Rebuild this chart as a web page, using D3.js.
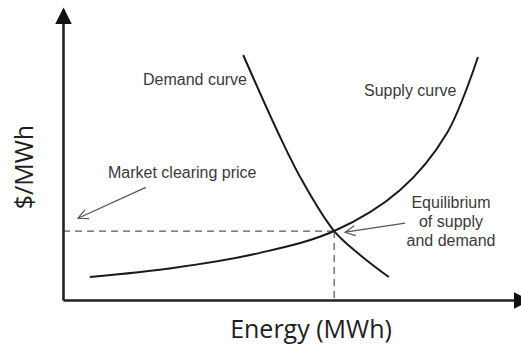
<!DOCTYPE html>
<html>
<head>
<meta charset="utf-8">
<script src="https://cdn.jsdelivr.net/npm/d3@7/dist/d3.min.js"></script>
<style>
  html, body { margin: 0; padding: 0; background: #fff; }
  svg { display: block; }
  .note { font-family: "Liberation Sans", Arial, sans-serif; font-size: 16px; fill: #3a3a3a; }
  .title { font-family: "Open Sans", sans-serif; font-size: 25px; fill: #1e1e1e; }
</style>
</head>
<body>
<svg id="chart" width="521" height="346"></svg>
<script>
// Supply and demand curves in arbitrary units (0–100 on each axis)
const supplyX = [5.9, 24.2, 43.3, 59.6, 74.1, 84.4, 91.2];
const supplyY = [7.9, 11.0, 16.2, 23.7, 37.8, 57.4, 83.5];
const demandX = [39.6, 47.3, 52.5, 59.6, 65.3, 71.6];
const demandY = [84.2, 57.4, 41.2, 23.7, 15.5, 7.9];
const equilibrium = [59.6, 23.7];

const labels = {
  demand: "Demand curve",
  supply: "Supply curve",
  price: "Market clearing price",
  equilibrium: ["Equilibrium", "of supply", "and demand"],
  xTitle: "Energy (MWh)",
  yTitle: "$/MWh"
};

const svg = d3.select("#chart");

const x = d3.scaleLinear().domain([0, 100]).range([63, 518]);
const y = d3.scaleLinear().domain([0, 100]).range([300, 9]);

const defs = svg.append("defs");
// filled arrowheads for the axes (tip offset differs per axis)
[["xHead", 2.9], ["yHead", 8.8]].forEach(([id, ref]) => {
  defs.append("marker")
    .attr("id", id)
    .attr("viewBox", "0 0 10 10")
    .attr("refX", ref).attr("refY", 5)
    .attr("markerUnits", "userSpaceOnUse")
    .attr("markerWidth", 17).attr("markerHeight", 17)
    .attr("orient", "auto")
    .append("path").attr("d", "M0,0L10,5L0,10Z").attr("fill", "#111");
});
// open arrowhead for annotation pointers
defs.append("marker")
  .attr("id", "openHead")
  .attr("viewBox", "0 0 12 12")
  .attr("refX", 11).attr("refY", 6)
  .attr("markerUnits", "userSpaceOnUse")
  .attr("markerWidth", 12).attr("markerHeight", 12)
  .attr("orient", "auto")
  .append("path").attr("d", "M1,1L11,6L1,11")
  .attr("fill", "none").attr("stroke", "#555").attr("stroke-width", 1.2);

// Guide lines from the equilibrium point to the axes
const guide = svg.append("g")
  .attr("stroke", "#555").attr("stroke-width", 1.2)
  .attr("stroke-dasharray", "7,5").attr("fill", "none");
guide.append("line")
  .attr("x1", x(0)).attr("x2", x(equilibrium[0]))
  .attr("y1", y(equilibrium[1])).attr("y2", y(equilibrium[1]));
guide.append("line")
  .attr("x1", x(equilibrium[0])).attr("x2", x(equilibrium[0]))
  .attr("y1", y(equilibrium[1])).attr("y2", y(0));

// Axes without ticks, arrow-tipped
const xAxis = svg.append("g").attr("transform", `translate(0,${y(0)})`)
  .call(d3.axisBottom(x).ticks(0).tickSizeOuter(0));
const yAxis = svg.append("g").attr("transform", `translate(${x(0)},0)`)
  .call(d3.axisLeft(y).ticks(0).tickSizeOuter(0));
xAxis.select(".domain").attr("marker-end", "url(#xHead)");
yAxis.select(".domain").attr("marker-end", "url(#yHead)");
[xAxis, yAxis].forEach(g => g.select(".domain")
  .attr("stroke", "#222").attr("stroke-width", 2.6));

// Curves
const line = d3.line().x(d => x(d[0])).y(d => y(d[1])).curve(d3.curveCatmullRom.alpha(0.5));
svg.append("path")
  .datum(supplyX.map((v, i) => [v, supplyY[i]]))
  .attr("d", line).attr("fill", "none").attr("stroke", "#1a1a1a").attr("stroke-width", 2);
svg.append("path")
  .datum(demandX.map((v, i) => [v, demandY[i]]))
  .attr("d", line).attr("fill", "none").attr("stroke", "#1a1a1a").attr("stroke-width", 2);

// Annotation arrows
svg.append("line")
  .attr("x1", x(18.2)).attr("y1", y(38.7))
  .attr("x2", x(3.3)).attr("y2", y(28.1))
  .attr("stroke", "#555").attr("stroke-width", 1.2).attr("marker-end", "url(#openHead)");
svg.append("line")
  .attr("x1", x(75.2)).attr("y1", y(26.4))
  .attr("x2", x(62.0)).attr("y2", y(23.3))
  .attr("stroke", "#555").attr("stroke-width", 1.2).attr("marker-end", "url(#openHead)");

// Labels
svg.append("text").attr("class", "note")
  .attr("x", 247).attr("y", 85).attr("text-anchor", "end").text(labels.demand);
svg.append("text").attr("class", "note")
  .attr("x", 364).attr("y", 96).text(labels.supply);
svg.append("text").attr("class", "note")
  .attr("x", 108).attr("y", 178).text(labels.price);
svg.append("text").attr("class", "note")
  .attr("text-anchor", "middle")
  .selectAll("tspan").data(labels.equilibrium).join("tspan")
  .attr("x", 451).attr("y", (d, i) => 208 + i * 19).text(d => d);

svg.append("text").attr("class", "title")
  .attr("x", 311).attr("y", 338).attr("text-anchor", "middle").text(labels.xTitle);
svg.append("text").attr("class", "title")
  .attr("transform", "translate(33,167) rotate(-90)")
  .attr("text-anchor", "middle").text(labels.yTitle);
</script>
</body>
</html>
